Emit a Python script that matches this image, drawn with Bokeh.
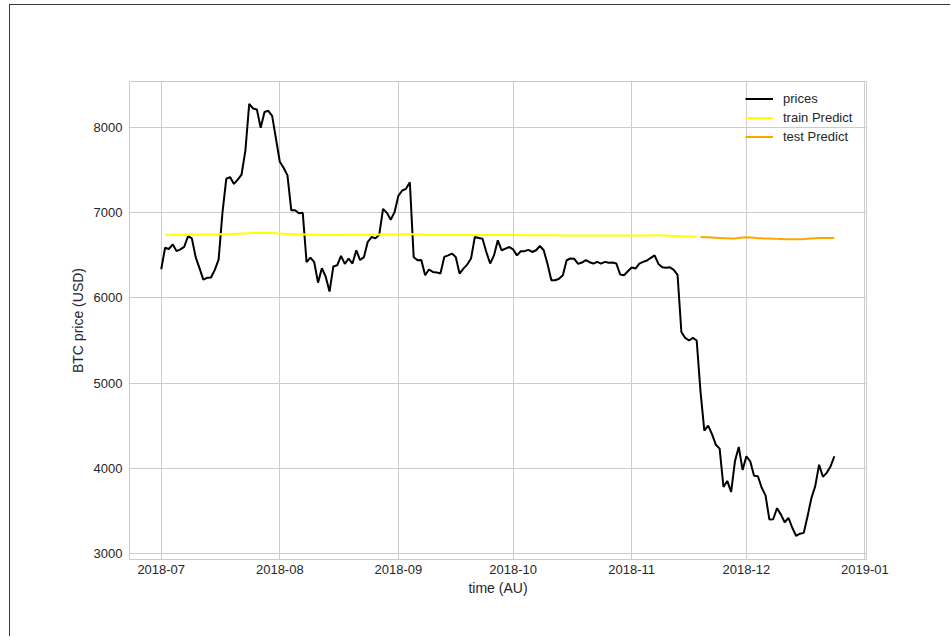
import pandas as pd
from bokeh.plotting import figure
from bokeh.models import Range1d, FixedTicker, DatetimeTickFormatter
from bokeh.embed import file_html
from bokeh.resources import INLINE

# ---------------- data ----------------
start_date = "2018-07-01"
train_start = "2018-07-02"
test_start = "2018-11-19"

prices = [
    6337, 6590, 6575, 6630, 6550, 6570, 6600, 6725, 6700, 6480,
    6350, 6215, 6236, 6240, 6330, 6450, 7000, 7400, 7420, 7340,
    7390, 7450, 7730, 8280, 8226, 8215, 8000, 8185, 8199, 8140,
    7870, 7600, 7530, 7440, 7030, 7030, 6995, 7000, 6420, 6474,
    6420, 6180, 6350, 6250, 6075, 6370, 6384, 6495, 6400, 6463,
    6404, 6560, 6445, 6480, 6660, 6716, 6700, 6745, 7047, 7000,
    6919, 7008, 7200, 7262, 7282, 7360, 6480, 6443, 6445, 6267,
    6334, 6306, 6300, 6287, 6482, 6501, 6521, 6482, 6287, 6345,
    6392, 6463, 6716, 6704, 6696, 6540, 6404, 6500, 6677, 6560,
    6580, 6598, 6570, 6500, 6548, 6550, 6565, 6540, 6560, 6610,
    6560, 6400, 6208, 6208, 6225, 6267, 6443, 6463, 6460, 6400,
    6416, 6445, 6420, 6404, 6424, 6404, 6424, 6414, 6416, 6404,
    6275, 6267, 6314, 6357, 6345, 6404, 6424, 6440, 6470, 6500,
    6400, 6360, 6355, 6360, 6330, 6270, 5600, 5530, 5500, 5530,
    5500, 4900, 4440, 4500, 4400, 4276, 4230, 3780, 3850, 3720,
    4080, 4250, 3980, 4140, 4080, 3910, 3905, 3770, 3680, 3398,
    3400, 3530, 3457, 3365, 3415, 3300, 3205, 3230, 3240, 3437,
    3650, 3789, 4040, 3900, 3945, 4020, 4140,
]

train_predict = [
    6742, 6742, 6743, 6743, 6742, 6742, 6743, 6744, 6744, 6744,
    6745, 6745, 6746, 6746, 6747, 6748, 6749, 6750, 6752, 6754,
    6756, 6758, 6760, 6762, 6763, 6764, 6764, 6763, 6762, 6760,
    6758, 6755, 6752, 6750, 6748, 6746, 6745, 6744, 6744, 6743,
    6742, 6741, 6741, 6740, 6740, 6741, 6741, 6742, 6742, 6742,
    6742, 6742, 6743, 6743, 6744, 6744, 6745, 6746, 6746, 6746,
    6747, 6747, 6748, 6748, 6748, 6747, 6745, 6744, 6742, 6741,
    6740, 6740, 6739, 6739, 6739, 6740, 6740, 6740, 6739, 6739,
    6739, 6740, 6741, 6741, 6741, 6740, 6740, 6740, 6740, 6740,
    6739, 6739, 6739, 6738, 6738, 6738, 6738, 6738, 6738, 6738,
    6737, 6737, 6736, 6735, 6735, 6735, 6735, 6735, 6735, 6735,
    6735, 6735, 6735, 6735, 6735, 6735, 6735, 6735, 6734, 6734,
    6734, 6734, 6734, 6734, 6734, 6735, 6735, 6736, 6736, 6736,
    6735, 6733, 6731, 6729, 6727, 6725, 6723, 6722, 6722, 6721,
]

test_predict = [
    6716, 6714, 6712, 6710, 6708, 6705, 6702, 6700, 6697, 6698,
    6703, 6710, 6712, 6710, 6706, 6702, 6700, 6698, 6697, 6696,
    6694, 6692, 6690, 6690, 6689, 6690, 6691, 6693, 6696, 6699,
    6702, 6704, 6704, 6704, 6704, 6704,
]

month_ticks = ["2018-07-01", "2018-08-01", "2018-09-01", "2018-10-01",
               "2018-11-01", "2018-12-01", "2019-01-01"]
y_ticks = [3000, 4000, 5000, 6000, 7000, 8000]

x_label = "time (AU)"
y_label = "BTC price (USD)"
# --------------------------------------

price_dates = pd.date_range(start_date, periods=len(prices), freq="D")
train_dates = pd.date_range(train_start, periods=len(train_predict), freq="D")
test_dates = pd.date_range(test_start, periods=len(test_predict), freq="D")

t0 = pd.Timestamp(start_date)
x_range = Range1d(start=t0 - pd.Timedelta(hours=8.3 * 24),
                  end=t0 + pd.Timedelta(hours=184.4 * 24))
y_range = Range1d(start=2927, end=8543)

FONT = "Liberation Sans"
TXT = "#262626"

p = figure(width=941, height=632, x_axis_type="datetime",
           x_range=x_range, y_range=y_range,
           output_backend="svg", toolbar_location=None,
           min_border_left=119, min_border_right=85,
           min_border_top=76, min_border_bottom=78)
p.styles = {"margin-left": "9px", "margin-top": "4px",
            "border-left": "1px solid #3a3a3a",
            "border-top": "1px solid #3a3a3a"}

p.background_fill_color = "white"
p.border_fill_color = "white"
p.outline_line_color = "#cccccc"
p.outline_line_width = 1

tick_ms = [pd.Timestamp(t).value / 1e6 for t in month_ticks]
p.xaxis.ticker = FixedTicker(ticks=tick_ms)
p.xaxis.formatter = DatetimeTickFormatter(
    milliseconds="%Y-%m", seconds="%Y-%m", minsec="%Y-%m", minutes="%Y-%m",
    hourmin="%Y-%m", hours="%Y-%m", days="%Y-%m", months="%Y-%m", years="%Y-%m")
p.yaxis.ticker = FixedTicker(ticks=y_ticks)

for ax in (p.xaxis, p.yaxis):
    ax.axis_line_color = None
    ax.major_tick_line_color = None
    ax.minor_tick_line_color = None
    ax.major_tick_out = 0
    ax.major_tick_in = 0
    ax.major_label_text_font = FONT
    ax.major_label_text_font_size = "13px"
    ax.major_label_text_color = TXT
    ax.axis_label_text_font = FONT
    ax.axis_label_text_font_size = "14px"
    ax.axis_label_text_color = TXT
    ax.axis_label_text_font_style = "normal"

p.xaxis.axis_label = x_label
p.yaxis.axis_label = y_label
p.yaxis.major_label_standoff = 7
p.yaxis.axis_label_standoff = 5
p.xaxis.major_label_standoff = 5
p.xaxis.axis_label_standoff = 3

p.xgrid.ticker = FixedTicker(ticks=tick_ms)
p.ygrid.ticker = FixedTicker(ticks=y_ticks)
for g in (p.xgrid, p.ygrid):
    g.grid_line_color = "#cccccc"
    g.grid_line_width = 1

p.line(price_dates, prices, line_color="black", line_width=2,
       legend_label="prices")
p.line(train_dates, train_predict, line_color="yellow", line_width=2,
       legend_label="train Predict")
p.line(test_dates, test_predict, line_color="orange", line_width=2,
       legend_label="test Predict")

lg = p.legend[0]
lg.location = "top_right"
lg.margin = 8
lg.padding = 0
lg.spacing = 0
lg.glyph_width = 28
lg.glyph_height = 19
lg.label_height = 19
lg.label_width = 75
lg.label_standoff = 10
lg.label_text_font = FONT
lg.label_text_font_size = "13px"
lg.label_text_color = TXT
lg.background_fill_alpha = 0
lg.border_line_color = None

open("out.html", "w").write(file_html(p, INLINE))
